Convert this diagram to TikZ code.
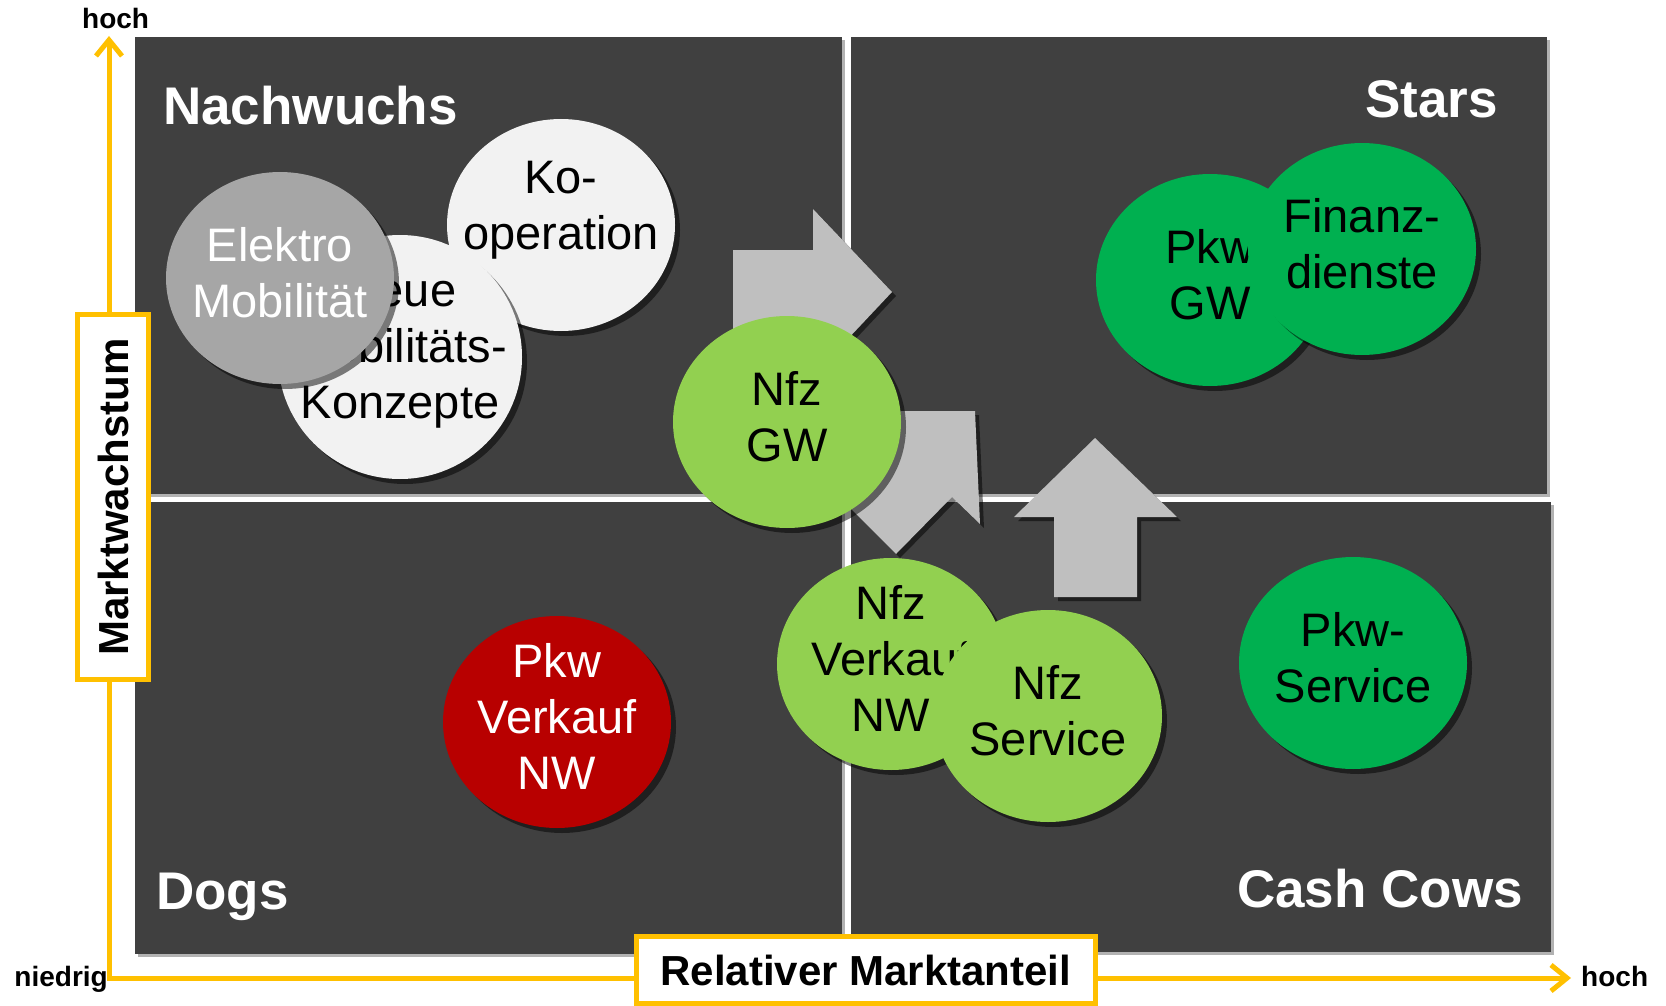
\documentclass[tikz,border=0pt]{standalone}
\usepackage{fontspec}
\setmainfont{Liberation Sans}
\usetikzlibrary{arrows.meta, positioning, shadows, shapes.geometric}
\definecolor{panelgray}{RGB}{64,64,64}
\definecolor{arrowgray}{RGB}{191,191,191}
\definecolor{axisgold}{RGB}{255,192,0}
\definecolor{nfzgreen}{RGB}{146,208,80}
\definecolor{pkwgreen}{RGB}{0,176,80}
\definecolor{dogred}{RGB}{184,0,0}
\definecolor{elektrogray}{RGB}{166,166,166}
\definecolor{bubblewhite}{RGB}{242,242,242}
\newcommand{\bubblelines}[2][0pt]{\raisebox{#1}[\height][\depth]{\begin{tabular}{@{}c@{}}#2\end{tabular}}}

\begin{document}
\begin{tikzpicture}[x=1pt, y=-1pt,
  panel/.style={fill=panelgray, drop shadow={shadow xshift=3pt, shadow yshift=-3pt, opacity=.3, fill=black}},
  bigarrow/.style={fill=arrowgray, drop shadow={shadow xshift=4pt, shadow yshift=-4pt, opacity=.5, fill=black}},
  bubble/.style={ellipse, minimum width=228pt, minimum height=212pt, inner sep=-60pt, fill=#1,
    font=\fontsize{47}{56}\selectfont,
    drop shadow={shadow xshift=5pt, shadow yshift=-5pt, opacity=.5, fill=black}},
  quadlabel/.style={text=white, font=\fontsize{53}{60}\selectfont\bfseries, inner sep=0pt},
  axisline/.style={axisgold, line width=5pt, line join=miter,
    {Straight Barb[length=16pt, width=26pt]}-{Straight Barb[length=16pt, width=26pt]}},
  axisbox/.style={draw=axisgold, line width=5pt, fill=white, inner sep=0pt,
    font=\fontsize{42}{48}\selectfont\bfseries},
  axistext/.style={font=\fontsize{28}{32}\selectfont\bfseries, inner sep=0pt}]
  \useasboundingbox (0,0) rectangle (1666,1006);

  % Quadrants
  \fill[panel] (135,37) rectangle (842,494);
  \fill[panel] (851,37) rectangle (1547,494);
  \fill[panel] (135,502) rectangle (842,954);
  \fill[panel] (851,502) rectangle (1551,952);

  \node[quadlabel, anchor=base west] (nachwuchs) at (163,125) {Nachwuchs};
  \node[quadlabel, anchor=base east] (stars) at (1498,118) {Stars};
  \node[quadlabel, anchor=base west] (dogs) at (156,909) {Dogs};
  \node[quadlabel, anchor=base east] (cows) at (1523,907) {Cash Cows};

  % Axes
  \coordinate (origin) at (109,978);
  \coordinate (ytip) at (109,36);
  \coordinate (xtip) at (1571,978);
  \draw[axisline] (ytip) -- (origin) -- (xtip);

  \node[axisbox, rotate=90, minimum width=365pt, minimum height=71pt] (wachstum) at (113,497) {Marktwachstum};
  \node[axisbox, minimum width=459pt, minimum height=67pt] (anteil) at (866,970) {Relativer Marktanteil};

  \node[axistext, anchor=base west] (hochy) at (82,29) {hoch};
  \node[axistext, anchor=base east] (niedrig) at (108,986) {niedrig};
  \node[axistext, anchor=base west] (hochx) at (1581,986) {hoch};

  % Gray arrows
  \fill[bigarrow] (733,250) -- (813,250) -- (813,209) -- (892,292) -- (813,376) -- (813,335) -- (733,335) -- cycle;
  \fill[bigarrow] (870,411) -- (975,411) -- (980,524) -- (952,497) -- (896,554) -- (840,498) -- (870,468) -- cycle;
  \fill[bigarrow] (1054,597) -- (1054,517) -- (1014,517) -- (1095,438) -- (1177,517) -- (1137,517) -- (1137,597) -- cycle;

  % Bubbles
  \node[bubble=bubblewhite] (koop) at (561,225) {\bubblelines[15pt]{Ko-\\operation}};
  \node[bubble=bubblewhite, minimum width=244pt, minimum height=244pt] (neue) at (400,357) {\bubblelines[6pt]{Neue\\Mobilitäts-\\Konzepte}};
  \node[bubble=elektrogray, text=white] (elektro) at (280,278) {\bubblelines{Elektro\\Mobilität}};
  \node[bubble=nfzgreen] (nfzgw) at (787,422) {\bubblelines{Nfz\\GW}};
  \node[bubble=pkwgreen] (pkwgw) at (1210,280) {\bubblelines{Pkw\\GW}};
  \node[bubble=pkwgreen] (finanz) at (1362,249) {\bubblelines{Finanz-\\dienste}};
  \node[bubble=dogred, text=white] (pkwnw) at (557,722) {\bubblelines{Pkw\\Verkauf\\NW}};
  \node[bubble=nfzgreen] (nfznw) at (891,664) {\bubblelines{Nfz\\Verkauf\\NW}};
  \node[bubble=nfzgreen] (nfzservice) at (1048,716) {\bubblelines{Nfz\\Service}};
  \node[bubble=pkwgreen] (pkwservice) at (1353,663) {\bubblelines{Pkw-\\Service}};
\end{tikzpicture}
\end{document}
